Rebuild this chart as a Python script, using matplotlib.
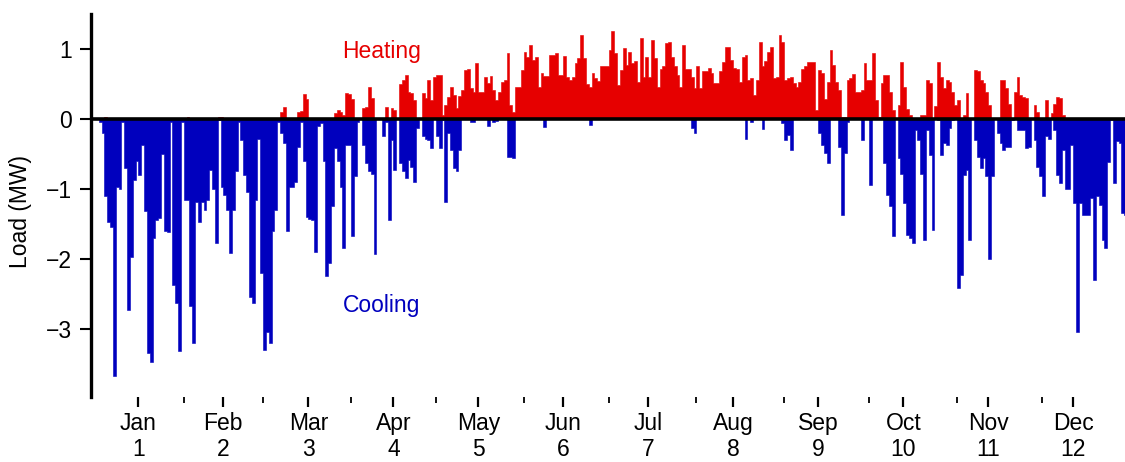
import numpy as np
import matplotlib
matplotlib.use('Agg')
import matplotlib.pyplot as plt

plt.rcParams['font.family'] = ['Liberation Sans', 'DejaVu Sans']

# daily peak loads (MW), one value per day of the year
heating = [
    0, 0, 0, 0.03, 0, 0, 0, 0, 0, 0,
    0, 0, 0, 0, 0, 0, 0, 0, 0, 0,
    0, 0, 0, 0, 0, 0, 0, 0, 0, 0,
    0, 0, 0.03, 0, 0, 0, 0, 0, 0, 0,
    0, 0.02, 0, 0.03, 0.03, 0, 0, 0, 0,
    0, 0, 0, 0, 0, 0, 0, 0, 0, 0,
    0, 0, 0, 0, 0, 0, 0.1, 0.17, 0, 0,
    0, 0, 0.1, 0.12, 0.35, 0.28, 0, 0, 0, 0,
    0, 0, 0, 0, 0, 0.08, 0.13, 0.1, 0.05, 0.37,
    0.35, 0.28, 0.02, 0.02, 0, 0.15, 0.17, 0.45, 0.3, 0,
    0, 0, 0, 0.17, 0.02, 0.15, 0.13, 0.02, 0.5, 0.56,
    0.63, 0.39, 0.37, 0.27, 0.02, 0.02, 0.37, 0.3, 0.56, 0.27,
    0.6, 0.63, 0.63, 0.06, 0.2, 0.32, 0.45, 0.34, 0.15, 0.33,
    0.41, 0.7, 0.71, 0.44, 0.39, 0.8, 0.39, 0.39, 0.6, 0.51,
    0.61, 0.41, 0.27, 0.38, 0.53, 0.55, 0.94, 0.2, 0.1,
    0.46, 0.46, 0.7, 0.96, 0.89, 1.06, 0.84, 0.89, 0.46, 0.65,
    0.62, 0.62, 0.91, 0.92, 0.94, 0.63, 0.63, 0.9, 0.6, 0.56,
    0.6, 0.8, 0.87, 1.2, 0.87, 0.5, 0.46, 0.65, 0.58, 0.54,
    0.75, 0.76, 0.75, 0.99, 1.25, 0.94, 0.48, 0.7, 1.01, 0.77,
    0.96, 0.8, 0.83, 0.53, 1.15, 0.6, 0.89, 0.6, 1.13, 0.87,
    0.46, 0.72, 0.75, 1.08, 1.1, 0.89, 0.75, 0.63, 0.46, 1.06,
    0.72, 0.72, 0.6, 0.44, 0.76, 0.44, 0.68, 0.68, 0.73, 0.66,
    0.51, 0.51, 0.68, 0.82, 1.03, 1.03, 0.84, 0.73, 0.72, 0.53,
    0.89, 0.91, 0.55, 0.58, 0.34, 0.56, 1.1, 0.75, 0.83,
    0.96, 1.03, 0.58, 0.6, 1.2, 1.1, 0.55, 0.58, 0.6, 0.51,
    0.46, 0.53, 0.71, 0.75, 0.82, 0.82, 0.82, 0.13, 0.7, 0.65,
    0.28, 0.53, 0.99, 0.77, 0.53, 0.42, 0.03, 0.03, 0.56, 0.58,
    0.64, 0.39, 0.39, 0.42, 0.8, 0.56, 0.56, 0.94, 0.27, 0.03,
    0.51, 0.63, 0.63, 0.39, 0.13, 0.02, 0.2, 0.82, 0.46, 0.14,
    0.06, 0.02, 0.02, 0.02, 0.06, 0.06, 0.55, 0.52, 0.02, 0.19,
    0.82, 0.6, 0.44, 0.56, 0.53, 0.39, 0.2, 0.27, 0.02, 0.06,
    0.37, 0.02, 0.02, 0.7, 0.68, 0.56, 0.51, 0.39, 0.2,
    0, 0, 0.02, 0.56, 0.56, 0.44, 0.22, 0.02, 0.39, 0.6,
    0.34, 0.32, 0.3, 0.02, 0.02, 0.2, 0.1, 0.02, 0.02, 0.27,
    0.02, 0.08, 0.22, 0.32, 0.3, 0.06, 0, 0, 0, 0,
    0, 0, 0, 0, 0, 0, 0, 0, 0, 0,
    0, 0, 0, 0, 0, 0, 0, 0, 0,
]
cooling = [
    0, -0.04, -0.2, -1.1, -1.47, -1.55, -3.68, -0.97, -1.0, -0.05,
    -0.7, -2.73, -1.97, -0.87, -0.6, -0.8, -0.37, -1.32, -3.35, -3.47,
    -1.7, -1.44, -1.42, -0.5, -1.6, -1.62, -0.04, -2.37, -2.63, -3.32,
    -0.04, -1.16, -1.16, -2.68, -3.2, -1.18, -1.47, -1.18, -1.3, -1.16,
    -0.73, -1.0, -1.78, -0.02, -0.97, -1.09, -1.3, -1.92, -1.3,
    -0.75, -0.04, -0.3, -0.8, -1.04, -2.54, -2.63, -1.16, -0.28, -2.2,
    -3.3, -3.04, -3.2, -1.6, -1.3, -0.05, -0.2, -0.35, -1.6, -0.97,
    -0.97, -0.9, -0.4, -0.05, -0.6, -1.4, -1.43, -1.45, -1.9, -0.1,
    -0.06, -0.6, -2.25, -2.06, -1.25, -0.42, -0.6, -0.97, -1.84, -0.37,
    -0.37, -1.68, -0.82, -0.05, 0, -0.37, -0.63, -0.75, -0.78, -1.93,
    0, 0, -0.25, -0.05, -1.44, -0.3, -0.73, 0, -0.63, -0.75,
    -0.85, -0.59, -0.68, -0.9, -0.13, 0, -0.25, -0.28, -0.3, -0.42,
    0, -0.25, -0.42, -0.02, -1.19, -0.2, -0.45, -0.7, -0.75, -0.44,
    0, 0, 0, -0.04, -0.04, 0, 0, 0, 0, -0.1,
    0, -0.04, -0.03, 0, 0, 0, -0.54, -0.54, -0.56,
    0, 0, 0, 0, 0, 0, 0, 0, 0, 0,
    -0.12, 0, 0, 0, 0, 0, 0, 0, 0, 0,
    0, 0, 0, 0, 0, 0, -0.08, 0, 0, 0,
    0, 0, 0, 0, 0, 0, 0, 0, 0, 0,
    0, 0, 0, 0, 0, 0, 0, 0, 0, 0,
    0, 0, 0, 0, 0, 0, 0, 0, 0, 0,
    0, 0, -0.13, -0.2, 0, 0, 0, 0, 0, 0,
    0, 0, 0, 0, 0, 0, 0, 0, 0, 0,
    0, -0.29, 0, -0.04, 0, 0, 0, -0.15, 0,
    0, 0, 0, 0, 0, -0.06, -0.3, -0.23, -0.44, 0,
    0, 0, 0, 0, 0, 0, 0, 0, -0.2, -0.37,
    -0.49, -0.63, 0, 0, 0, -0.4, -1.37, -0.49, -0.05, 0,
    0, 0, 0, -0.3, 0, 0, -0.94, 0, 0, 0,
    0, -0.63, -1.09, -1.25, -1.68, 0, -0.56, -0.78, -1.2, -1.66,
    -1.7, -1.78, -0.16, -0.3, -0.78, -1.73, -0.16, -0.51, -1.59, 0,
    -0.02, -0.51, -0.35, -0.37, -0.13, -0.02, 0, -2.42, -2.23, -0.8,
    -0.73, -1.73, 0, -0.3, -0.54, -0.7, -0.56, -0.82, -2.0,
    -0.82, 0, -0.2, -0.35, -0.44, -0.4, -0.4, -0.02, 0, -0.16,
    -0.16, -0.16, -0.42, -0.4, 0, -0.3, -0.68, -0.82, -1.1, -0.25,
    -0.29, 0, -0.16, -0.8, -0.92, -0.44, -1.0, -1.0, -0.37, -1.2,
    -3.04, -1.2, -1.37, -1.37, -1.37, -1.13, -2.3, -1.1, -1.23, -1.73,
    -1.85, -0.61, -0.02, -0.92, -0.32, -0.35, -1.35, -1.37, -1.2,
]
months = ['Jan', 'Feb', 'Mar', 'Apr', 'May', 'Jun',
          'Jul', 'Aug', 'Sep', 'Oct', 'Nov', 'Dec']
month_days = [31, 28, 31, 30, 31, 30, 31, 31, 30, 31, 30, 31]

RED = '#E60000'
BLUE = '#0000BE'

edges = np.arange(len(heating) + 1)

fig = plt.figure(figsize=(11.25, 4.62), dpi=100)
ax = fig.add_axes([0.0812, 0.1413, 0.9188, 0.8284])

ax.stairs(heating, edges, fill=True, facecolor=RED, edgecolor=RED, baseline=0, lw=0.4)
ax.stairs(cooling, edges, fill=True, facecolor=BLUE, edgecolor=BLUE, baseline=0, lw=0.4)
ax.axhline(0, color='black', lw=2.6, zorder=5)

ax.text(100.9, 0.867, 'Heating', color=RED, fontsize=16.5, ha='center', va='baseline')
ax.text(100.9, -2.753, 'Cooling', color=BLUE, fontsize=16.5, ha='center', va='baseline')

ax.set_xlim(-1.59, 363.25)
ax.set_ylim(-3.97, 1.5)

ax.set_xticks(np.arange(15, 360, 30))
ax.set_xticklabels(['%s\n%d' % (m, i + 1) for i, m in enumerate(months)],
                   linespacing=1.15)
ax.set_xticks(np.cumsum(month_days)[:-1], minor=True)
ax.set_yticks([-3, -2, -1, 0, 1])

ax.tick_params(axis='x', which='major', length=7, width=1.6, labelsize=16.5, pad=4)
ax.tick_params(axis='x', which='minor', length=4, width=1.3)
ax.tick_params(axis='y', length=8, width=1.5, labelsize=16.5, pad=6)

for side in ['top', 'right', 'bottom']:
    ax.spines[side].set_visible(False)
ax.spines['left'].set_linewidth(2.4)

ax.set_ylabel('Load (MW)', fontsize=16.5)
ax.yaxis.set_label_coords(-0.057, 0.483)

plt.savefig('out.png', dpi=100)
plt.close()
